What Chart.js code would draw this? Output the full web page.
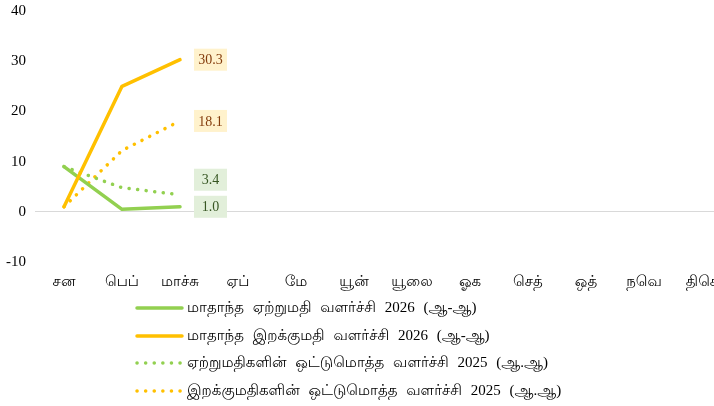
<!DOCTYPE html>
<html>
<head>
<meta charset="utf-8">
<script src="https://cdn.jsdelivr.net/npm/chart.js@4"></script>
<style>
html,body{margin:0;padding:0;background:#fff;overflow:hidden;width:714px;height:406px;}
canvas{display:block;}
</style>
</head>
<body>
<canvas id="c" width="740" height="406"></canvas>
<script>
const months = ['சன','பெப்','மாச்சு','ஏப்','மே','யூன்','யூலை','ஓக','செத்','ஒத்','நவெ','திசெ'];
const yTicks = [-10, 0, 10, 20, 30, 40];
const seriesNames = [
  'மாதாந்த ஏற்றுமதி வளர்ச்சி 2026 (ஆ-ஆ)',
  'மாதாந்த இறக்குமதி வளர்ச்சி 2026 (ஆ-ஆ)',
  'ஏற்றுமதிகளின் ஒட்டுமொத்த வளர்ச்சி 2025 (ஆ.ஆ)',
  'இறக்குமதிகளின் ஒட்டுமொத்த வளர்ச்சி 2025 (ஆ.ஆ)'
];
const exportMonthly = [9.0, 0.5, 1.0, null, null, null, null, null, null, null, null, null];
const importMonthly = [1.0, 25.0, 30.3, null, null, null, null, null, null, null, null, null];
const exportCumulative = [9.0, 4.8, 3.4, null, null, null, null, null, null, null, null, null];
const importCumulative = [1.0, 12.2, 18.1, null, null, null, null, null, null, null, null, null];

const GREEN = '#92D050', ORANGE = '#FFC000';
const SERIF = '"Liberation Serif", "Lohit Tamil", serif';

const styles = [
  {color: GREEN, dash: [], width: 3.5, order: 1, lblBg: '#E2EFDA', lblFg: '#375623', lblDy: 0},
  {color: ORANGE, dash: [], width: 3.5, order: 0, lblBg: '#FFF2CC', lblFg: '#843C0C', lblDy: 0},
  {color: GREEN, dash: [0.1, 8.5], width: 3.5, order: 2, lblBg: '#E2EFDA', lblFg: '#375623', lblDy: -15},
  {color: ORANGE, dash: [0.1, 8.5], width: 3.5, order: 3, lblBg: '#FFF2CC', lblFg: '#843C0C', lblDy: 0}
];
const allData = [exportMonthly, importMonthly, exportCumulative, importCumulative];

const datasets = allData.map((d, i) => ({
  label: seriesNames[i],
  data: d,
  borderColor: styles[i].color,
  backgroundColor: styles[i].color,
  borderWidth: styles[i].width,
  borderDash: styles[i].dash,
  borderCapStyle: 'round',
  borderJoinStyle: 'round',
  pointRadius: 0,
  tension: 0,
  order: styles[i].order,
  spanGaps: false
}));

const labelPlugin = {
  id: 'lastLabels',
  afterDatasetsDraw(chart) {
    const ctx = chart.ctx;
    ctx.save();
    ctx.font = '14px "Liberation Serif", serif';
    ctx.textBaseline = 'middle';
    ctx.textAlign = 'center';
    chart.data.datasets.forEach((ds, i) => {
      const meta = chart.getDatasetMeta(i);
      let last = -1;
      ds.data.forEach((v, j) => { if (v !== null) last = j; });
      if (last < 0) return;
      const pt = meta.data[last];
      const txt = ds.data[last].toFixed(1);
      const bx = pt.x + 14, by = pt.y + styles[i].lblDy;
      const w = 33, h = 22;
      ctx.fillStyle = styles[i].lblBg;
      ctx.fillRect(bx, by - h / 2, w, h);
      ctx.fillStyle = styles[i].lblFg;
      ctx.fillText(txt, bx + w / 2, by + 1);
    });
    ctx.restore();
  }
};

const legendPlugin = {
  id: 'customLegend',
  afterDraw(chart) {
    const ctx = chart.ctx;
    ctx.save();
    const rows = [308, 336, 363, 391];
    const x0 = 137, x1 = 182;
    chart.data.datasets.forEach((ds, i) => {
      const y = rows[i];
      ctx.strokeStyle = styles[i].color;
      ctx.lineWidth = styles[i].width;
      ctx.lineCap = 'round';
      ctx.setLineDash(styles[i].dash);
      ctx.beginPath();
      ctx.moveTo(x0, y);
      ctx.lineTo(x1, y);
      ctx.stroke();
      ctx.setLineDash([]);
      ctx.fillStyle = '#000';
      ctx.font = '15px ' + SERIF;
      if ('wordSpacing' in ctx) ctx.wordSpacing = '5px';
      ctx.textBaseline = 'middle';
      ctx.textAlign = 'left';
      ctx.fillText(ds.label, 187, y);
      if ('wordSpacing' in ctx) ctx.wordSpacing = '0px';
    });
    ctx.restore();
  }
};

new Chart(document.getElementById('c'), {
  type: 'line',
  data: { labels: months, datasets },
  options: {
    responsive: false,
    animation: false,
    layout: { padding: { top: 11, right: 9, bottom: 110, left: 0 } },
    plugins: { legend: { display: false }, tooltip: { enabled: false } },
    scales: {
      x: {
        offset: true,
        grid: { display: false, drawTicks: false },
        border: { display: false },
        ticks: { color: '#000', font: { family: SERIF, size: 15 }, padding: 11, maxRotation: 0, autoSkip: false },
        afterFit(s) { s.height = 34; s.paddingLeft = 0; s.paddingRight = 0; }
      },
      y: {
        min: yTicks[0],
        max: yTicks[yTicks.length - 1],
        afterBuildTicks(s) { s.ticks = yTicks.map(v => ({ value: v })); },
        grid: {
          drawTicks: false,
          color: c => (c.tick && c.tick.value === 0) ? '#D9D9D9' : 'rgba(0,0,0,0)',
          lineWidth: 1
        },
        border: { display: false },
        ticks: { color: '#000', font: { family: '"Liberation Serif", serif', size: 15 }, padding: 9 },
        afterFit(s) { s.width = 35; s.paddingTop = 0; s.paddingBottom = 0; }
      }
    }
  },
  plugins: [labelPlugin, legendPlugin]
});
</script>
</body>
</html>
